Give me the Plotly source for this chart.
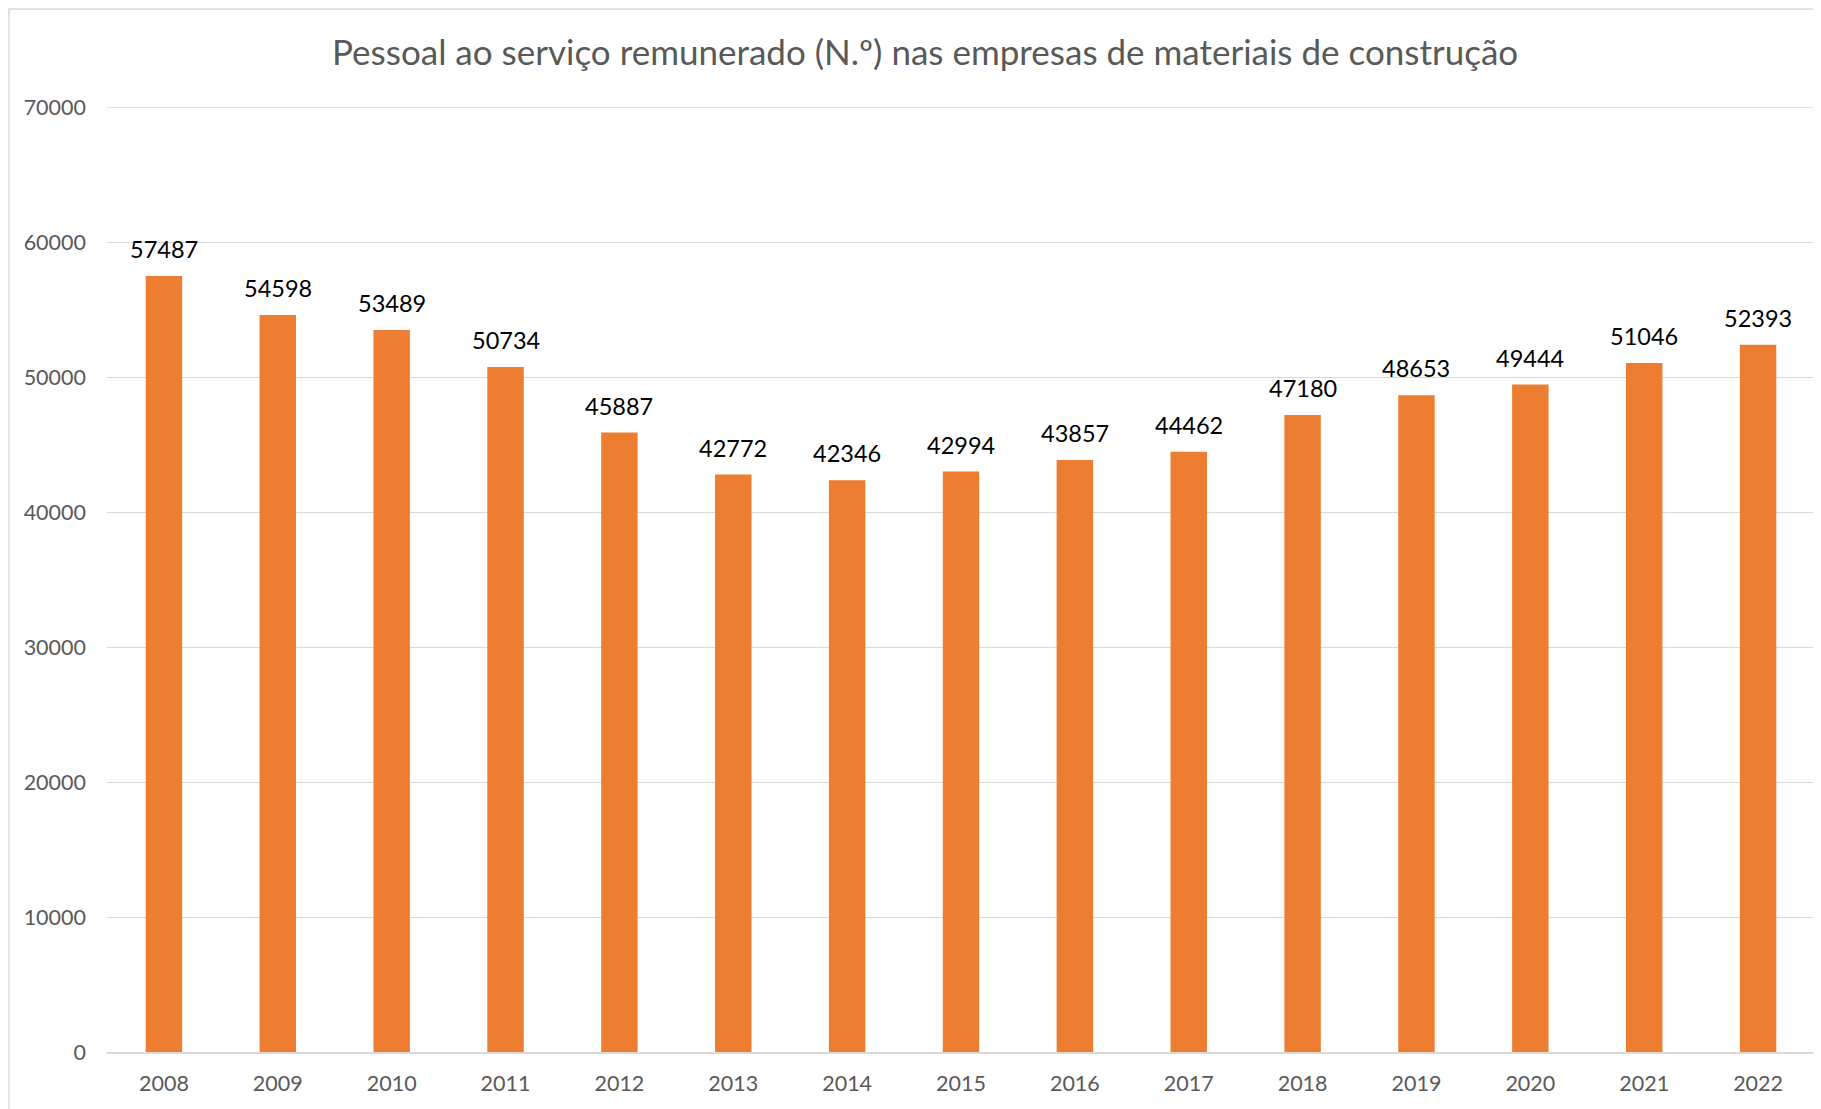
import plotly.graph_objects as go

years = ["2008", "2009", "2010", "2011", "2012", "2013", "2014", "2015",
         "2016", "2017", "2018", "2019", "2020", "2021", "2022"]
values = [57487, 54598, 53489, 50734, 45887, 42772, 42346, 42994,
          43857, 44462, 47180, 48653, 49444, 51046, 52393]
title_text = "Pessoal ao serviço remunerado (N.º) nas empresas de materiais de construção"
y_ticks = [0, 10000, 20000, 30000, 40000, 50000, 60000, 70000]

FONT = "Lato"
fig = go.Figure()
fig.add_trace(go.Bar(x=years, y=values, marker=dict(color="#ED7D31", line=dict(width=0)),
                     hoverinfo="x+y"))

for i, v in enumerate(values):
    fig.add_annotation(x=i, y=v, text=str(v), showarrow=False, yanchor="bottom",
                       yshift=11, font=dict(family=FONT, size=23.5, color="#000000"))

fig.update_layout(
    width=1821, height=1109,
    margin=dict(l=99, r=14, t=99, b=65),
    paper_bgcolor="white", plot_bgcolor="white",
    bargap=0.68,
    showlegend=False,
    title=dict(text=title_text, x=0.479, xref="paper", xanchor="center", y=0.960, yanchor="middle",
               font=dict(family=FONT, size=35, color="#595959")),
    xaxis=dict(type="category", categoryorder="array", categoryarray=years, range=[-0.5, 14.5],
               showgrid=False, showline=True, linecolor="#D9D9D9", linewidth=1.5,
               ticks="", tickfont=dict(family=FONT, size=21.5, color="#595959"), ticklabelstandoff=11),
    yaxis=dict(range=[0, 70000], tickvals=y_ticks, ticktext=[str(t) for t in y_ticks],
               showgrid=True, gridcolor="#D9D9D9", gridwidth=1.3,
               zeroline=False, showline=False, ticks="",
               tickfont=dict(family=FONT, size=21.5, color="#595959"), ticklabelstandoff=20),
    shapes=[
        dict(type="rect", xref="paper", yref="paper", x0=-0.0574, x1=1.2, y0=-0.2, y1=1.1037,
             line=dict(color="#D9D9D9", width=1.5), fillcolor="rgba(0,0,0,0)", layer="below"),
        dict(type="line", xref="paper", yref="y", x0=0, x1=1, y0=y_ticks[-1], y1=y_ticks[-1],
             line=dict(color="#D9D9D9", width=1.3), layer="below"),
    ],
)

fig.write_html("out.html")
